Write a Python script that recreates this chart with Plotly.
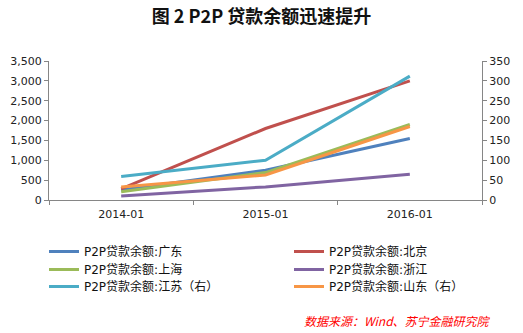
import plotly.graph_objects as go

categories = ["2014-01", "2015-01", "2016-01"]
guangdong = [250, 750, 1550]
beijing = [280, 1800, 3000]
shanghai = [210, 690, 1900]
zhejiang = [100, 330, 650]
jiangsu_right = [59, 100, 312]
shandong_right = [33, 63, 185]

series = [
    ("P2P贷款余额:广东", guangdong, "#4F81BD", "y"),
    ("P2P贷款余额:北京", beijing, "#C0504D", "y"),
    ("P2P贷款余额:上海", shanghai, "#9BBB59", "y"),
    ("P2P贷款余额:浙江", zhejiang, "#8064A2", "y"),
    ("P2P贷款余额:江苏（右）", jiangsu_right, "#4BACC6", "y2"),
    ("P2P贷款余额:山东（右）", shandong_right, "#F79646", "y2"),
]

L, R, T, B = 49, 41, 61, 133
W, H = 523, 333
pw, ph = W - L - R, H - T - B

def px_x(x):
    return (x - L) / pw

def px_y(y):
    return (H - B - y) / ph

font_main = "DejaVu Sans, Noto Sans CJK SC"
legend_common = dict(orientation="v", yanchor="top", xanchor="left",
                     tracegroupgap=0, itemwidth=30, bgcolor="rgba(0,0,0,0)",
                     font=dict(size=12, color="#111111", family=font_main))

col_x = [44, 289]
row_top = [237, 255, 272]

fig = go.Figure()
legends = {}
for i, (name, vals, color, yax) in enumerate(series):
    key = "legend" if i == 0 else f"legend{i + 1}"
    fig.add_trace(go.Scatter(x=categories, y=vals, name=name, mode="lines",
                             line=dict(color=color, width=3), yaxis=yax, legend=key))
    legends[key] = dict(x=px_x(col_x[i % 2]), y=px_y(row_top[i // 2]), **legend_common)

axis_common = dict(showgrid=False, zeroline=False, showline=True, linecolor="#868686",
                   linewidth=1, ticks="outside", ticklen=4, tickcolor="#868686",
                   tickfont=dict(size=11, color="#222222", family=font_main))

fig.update_layout(
    width=W, height=H,
    margin=dict(l=L, r=R, t=T, b=B, autoexpand=False),
    paper_bgcolor="white", plot_bgcolor="white",
    title=dict(text="<b>图 2 P2P 贷款余额迅速提升</b>", x=0.5, xanchor="center",
               y=1 - 17 / H, yanchor="middle",
               font=dict(size=18, color="#111111", family="Noto Sans CJK SC")),
    xaxis=dict(type="category", tickson="boundaries", range=[-0.5, 2.5],
               ticklabelstandoff=4, **axis_common),
    yaxis=dict(range=[0, 3500], dtick=500, tickformat=",", **axis_common),
    yaxis2=dict(range=[0, 350], dtick=50, overlaying="y", side="right", **axis_common),
    showlegend=True,
    annotations=[dict(text="<i>数据来源：Wind、苏宁金融研究院</i>", xref="paper", yref="paper",
                      x=px_x(493), y=px_y(320), xanchor="right", yanchor="middle",
                      showarrow=False, font=dict(size=12, color="#FF0000", family="Noto Sans CJK SC"))],
    **legends,
)

fig.write_html("out.html")
